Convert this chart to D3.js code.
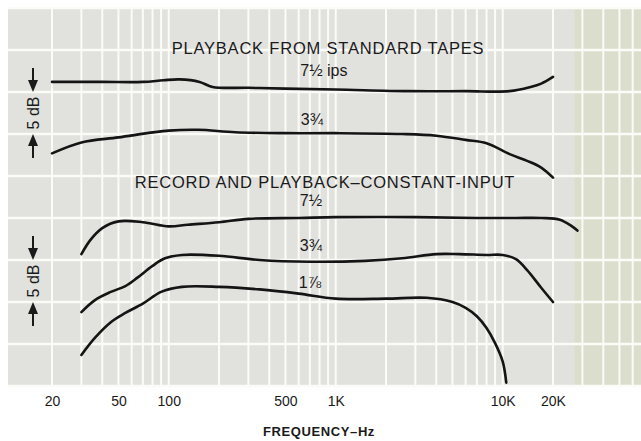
<!DOCTYPE html>
<html>
<head>
<meta charset="utf-8">
<script src="https://cdn.jsdelivr.net/npm/d3@7"></script>
<style>
  body { margin: 0; background: #fff; }
  text { font-family: "Liberation Sans", Arial, sans-serif; fill: #1a1a1a; }
  .curve { fill: none; stroke: #141414; stroke-width: 2.6; stroke-linecap: round; }
</style>
</head>
<body>
<svg id="chart" width="641" height="441"></svg>
<script>
// curves: frequency in Hz, level in dB (0 = bottom grid line)
const pb75Freq = [20, 40, 70, 93, 116, 153, 183, 300, 500, 1000, 2700, 6000, 11000, 14700, 17000, 20000];
const pb75Db = [36.2, 36.2, 36.2, 36.4, 36.5, 36.2, 35.6, 35.5, 35.4, 35.3, 35.1, 35.1, 35.1, 35.6, 36.0, 36.8];

const pb375Freq = [20, 30, 50, 100, 150, 250, 500, 1000, 2500, 4000, 6000, 8000, 11000, 14000, 17000, 20000];
const pb375Db = [27.7, 29.0, 29.6, 30.4, 30.5, 30.2, 30.1, 30.1, 30.0, 29.8, 29.3, 28.9, 27.6, 26.8, 26.0, 24.8];

const rec75Freq = [30, 34, 40, 50, 70, 100, 130, 200, 300, 600, 1000, 3000, 7000, 12000, 17000, 22000, 26000, 28000];
const rec75Db = [15.7, 17.4, 18.8, 19.6, 19.5, 19.0, 19.2, 19.5, 19.9, 20.0, 20.1, 20.1, 20.0, 20.0, 20.0, 19.8, 19.0, 18.5];

const rec375Freq = [30, 36, 45, 55, 65, 80, 95, 120, 200, 350, 700, 1500, 2500, 4000, 5500, 8000, 10000, 12000, 14000, 17000, 20000];
const rec375Db = [8.8, 10.2, 11.2, 11.9, 12.9, 14.3, 15.2, 15.6, 15.5, 15.0, 14.8, 14.9, 15.2, 15.7, 15.7, 15.6, 15.6, 15.1, 13.8, 11.7, 10.0];

const rec178Freq = [30, 36, 45, 55, 70, 90, 120, 200, 350, 600, 1000, 2000, 3500, 5000, 6000, 7000, 8000, 9000, 10000, 10500];
const rec178Db = [3.7, 5.7, 7.6, 8.7, 9.8, 11.2, 11.8, 11.8, 11.5, 11.0, 10.4, 10.4, 10.5, 10.0, 9.3, 8.3, 6.9, 5.1, 2.9, 0.4];

const tickFreqs = [20, 50, 100, 500, 1000, 10000, 20000];
const tickLabels = ['20', '50', '100', '500', '1K', '10K', '20K'];

const curveLabels = [
  { text: '7½ ips', f: 850, db: 36.9 },
  { text: '3¾', f: 720, db: 31.1 },
  { text: '7½', f: 710, db: 21.4 },
  { text: '3¾', f: 710, db: 16.1 },
  { text: '1⅞', f: 700, db: 11.7 }
];

const svg = d3.select('#chart');

const xScale = d3.scaleLog()
  .domain([20, 20000])
  .range([52, 553]);
const yScale = d3.scaleLinear()
  .domain([0, 45])
  .range([386, 8]);

const left = 8, right = 641;

// graph paper background
svg.append('rect')
  .attr('x', left).attr('y', yScale(45))
  .attr('width', right - left).attr('height', yScale(0) - yScale(45))
  .attr('fill', '#e1e1de');
svg.append('rect')
  .attr('x', xScale(27000)).attr('y', yScale(45))
  .attr('width', right - xScale(27000)).attr('height', yScale(0) - yScale(45))
  .attr('fill', '#dbdecc');

const gridFreqs = [];
[10, 100, 1000, 10000].forEach(dec => {
  for (let m = 1; m < 10; m++) gridFreqs.push(dec * m);
});
const grid = svg.append('g').attr('stroke', '#fbfbf8');
grid.selectAll('line.v')
  .data(gridFreqs.filter(f => xScale(f) > left && xScale(f) < right))
  .enter().append('line')
    .attr('class', 'v')
    .attr('x1', d => xScale(d)).attr('x2', d => xScale(d))
    .attr('y1', yScale(45)).attr('y2', yScale(0))
    .attr('stroke-width', 2);
grid.selectAll('line.h')
  .data(d3.range(0, 50, 5))
  .enter().append('line')
    .attr('class', 'h')
    .attr('x1', left).attr('x2', right)
    .attr('y1', d => yScale(d)).attr('y2', d => yScale(d))
    .attr('stroke-width', 2.5);

// curves
const line = d3.line()
  .x(d => xScale(d[0]))
  .y(d => yScale(d[1]))
  .curve(d3.curveCatmullRom.alpha(0.5));

const series = [
  [pb75Freq, pb75Db],
  [pb375Freq, pb375Db],
  [rec75Freq, rec75Db],
  [rec375Freq, rec375Db],
  [rec178Freq, rec178Db]
];
svg.selectAll('path.curve')
  .data(series.map(s => s[0].map((f, i) => [f, s[1][i]])))
  .enter().append('path')
    .attr('class', 'curve')
    .attr('d', line);

// titles
svg.append('text')
  .attr('x', 328).attr('y', 54)
  .attr('text-anchor', 'middle')
  .style('font-size', '16.5px')
  .style('letter-spacing', '0.8px')
  .text('PLAYBACK FROM STANDARD TAPES');
svg.append('text')
  .attr('x', 325).attr('y', 188)
  .attr('text-anchor', 'middle')
  .style('font-size', '16.5px')
  .style('letter-spacing', '0.8px')
  .text('RECORD AND PLAYBACK–CONSTANT-INPUT');

svg.selectAll('text.clabel')
  .data(curveLabels)
  .enter().append('text')
    .attr('class', 'clabel')
    .attr('x', d => xScale(d.f))
    .attr('y', d => yScale(d.db))
    .attr('text-anchor', 'middle')
    .style('font-size', '16px')
    .text(d => d.text);

// x axis labels
const xAxis = d3.axisBottom(xScale)
  .tickValues(tickFreqs)
  .tickFormat((d, i) => tickLabels[i])
  .tickSize(0)
  .tickPadding(0);
const xAxisG = svg.append('g')
  .attr('transform', 'translate(0, 396)')
  .call(xAxis);
xAxisG.select('.domain').remove();
xAxisG.selectAll('text')
  .style('font-family', '"Liberation Sans", Arial, sans-serif')
  .style('font-size', '14px')
  .attr('fill', '#1a1a1a');

svg.append('text')
  .attr('x', 319).attr('y', 436)
  .attr('text-anchor', 'middle')
  .style('font-size', '13px')
  .style('font-weight', 'bold')
  .style('letter-spacing', '0.6px')
  .text('FREQUENCY–Hz');

// 5 dB scale markers
function dbMarker(topDb) {
  const cx = 33;
  const yTop = yScale(topDb), yBot = yScale(topDb - 5);
  const g = svg.append('g');
  g.append('line').attr('x1', cx).attr('x2', cx)
    .attr('y1', yTop - 24).attr('y2', yTop - 8)
    .attr('stroke', '#1a1a1a').attr('stroke-width', 2);
  g.append('path')
    .attr('d', `M${cx - 5},${yTop - 12}L${cx + 5},${yTop - 12}L${cx},${yTop}Z`)
    .attr('fill', '#1a1a1a');
  g.append('line').attr('x1', cx).attr('x2', cx)
    .attr('y1', yBot + 8).attr('y2', yBot + 24)
    .attr('stroke', '#1a1a1a').attr('stroke-width', 2);
  g.append('path')
    .attr('d', `M${cx - 5},${yBot + 12}L${cx + 5},${yBot + 12}L${cx},${yBot}Z`)
    .attr('fill', '#1a1a1a');
  g.append('text')
    .attr('transform', `translate(${cx + 6}, ${(yTop + yBot) / 2}) rotate(-90)`)
    .attr('text-anchor', 'middle')
    .style('font-size', '16px')
    .text('5 dB');
}
dbMarker(35);
dbMarker(15);
</script>
</body>
</html>
